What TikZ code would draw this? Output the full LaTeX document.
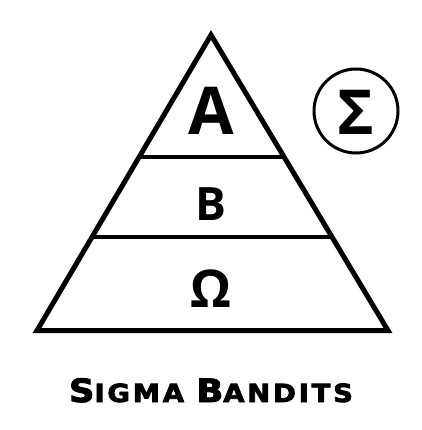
\documentclass[tikz,border=0pt]{standalone}
\usepackage{fontspec}
\setmainfont{Open Sans}
\newfontfamily\titlefont[LetterSpace=10,FakeBold=3]{DejaVu Sans}
\begin{document}
\begin{tikzpicture}[x=1pt,y=-1pt,line join=miter]
\tikzset{letter/.style={anchor=base,inner sep=0pt,font=\bfseries}}
\useasboundingbox (0,0) rectangle (421,430);
% corners
\coordinate (top) at (211,35);
\coordinate (left) at (37,330.5);
\coordinate (right) at (388,330.5);
% pyramid
\draw[line width=5pt] (top)--(left)--(right)--cycle;
% layers
\coordinate (l1) at (139,157);
\coordinate (r1) at (283,157);
\coordinate (l2) at (92,237);
\coordinate (r2) at (330,237);
\draw[line width=3.5pt] (l1)--(r1);
\draw[line width=3.5pt] (l2)--(r2);
% letters
\node[letter,font=\bfseries\fontsize{66}{70}\selectfont] (alpha) at (211,135) {A};
\node[letter,font=\bfseries\fontsize{46}{50}\selectfont] (beta) at (211,220) {B};
\node[letter,font=\bfseries\fontsize{52}{56}\selectfont] (omega) at (211,307) {Ω};
% sigma
\draw[line width=3pt] (356,111) circle (42);
\node[letter,font=\bfseries\fontsize{62}{66}\selectfont] (sigma) at (356,135) {Σ};
% title
\node[anchor=base,inner sep=0pt,font=\titlefont\bfseries] (title) at (211,402)
  {\scalebox{1.1}[1]{\fontsize{32}{33}\selectfont S\fontsize{25}{26}\selectfont IGMA\ \fontsize{32}{33}\selectfont B\fontsize{25}{26}\selectfont ANDITS}};
\end{tikzpicture}
\end{document}
